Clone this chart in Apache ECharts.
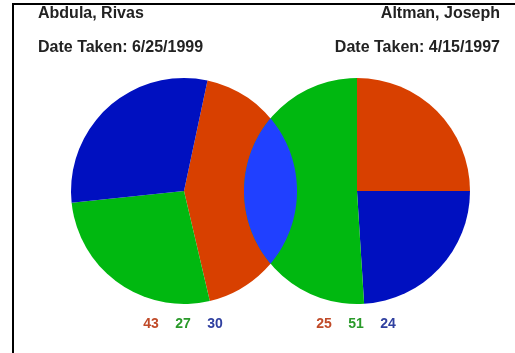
<!DOCTYPE html>
<html>
<head>
<meta charset="utf-8">
<script src="https://cdn.jsdelivr.net/npm/echarts@6/dist/echarts.min.js"></script>
<style>
html,body{margin:0;padding:0;background:#fff;}
#main{width:515px;height:353px;}
</style>
</head>
<body>
<div id="main"></div>
<script>
// ---- data ----
var leftName = "Abdula, Rivas";
var leftDate = "Date Taken: 6/25/1999";
var rightName = "Altman, Joseph";
var rightDate = "Date Taken: 4/15/1997";
var leftCategories = ["Red", "Green", "Blue"];
var leftValues = [43, 27, 30];
var rightCategories = ["Red", "Blue", "Green"];
var rightValues = [25, 24, 51];
var labelOrderLeft = [43, 27, 30];
var labelOrderRight = [25, 51, 24];

// ---- styles / layout ----
var colorMap = {Red: "#d84000", Green: "#00b810", Blue: "#0010c0"};
var textColorMap = {Red: "#c04a28", Green: "#2a9a2a", Blue: "#3040a0"};
var leftLabelColors = ["Red", "Green", "Blue"];
var rightLabelColors = ["Red", "Green", "Blue"];
var cy = 191, r = 113, c1x = 184, c2x = 357;

function pieData(cats, vals) {
  return cats.map(function (c, i) {
    return {name: c, value: vals[i], itemStyle: {color: colorMap[c]}};
  });
}

// lens (overlap of the two pie discs) as a polygon following both circle arcs
var d = c2x - c1x;
var half = Math.acos((d / 2) / r);
var lensPts = [];
var N = 60;
for (var k = 0; k <= N; k++) { // right side of left circle, top -> bottom
  var a = -half + (2 * half) * k / N;
  lensPts.push([c1x + r * Math.cos(a), cy + r * Math.sin(a)]);
}
for (var k2 = 0; k2 <= N; k2++) { // left side of right circle, bottom -> top
  var b = Math.PI - half + (2 * half) * k2 / N;
  lensPts.push([c2x + r * Math.cos(b), cy - r * Math.sin(b)]);
}

var titleFont = "bold 16px 'Liberation Sans', Arial";
var numFont = "bold 14px 'Liberation Sans', Arial";
var graphics = [
  {type: "line", shape: {x1: 13, y1: 4, x2: 13, y2: 353}, style: {stroke: "#000", lineWidth: 2}},
  {type: "line", shape: {x1: 12, y1: 4, x2: 515, y2: 4}, style: {stroke: "#000", lineWidth: 2}},
  {type: "polygon", shape: {points: lensPts}, style: {fill: "#2040ff"}, z: 100},
  {type: "text", x: 38, y: 14, style: {text: leftName, font: titleFont, fill: "#222", align: "left", verticalAlign: "middle"}},
  {type: "text", x: 38, y: 48, style: {text: leftDate, font: titleFont, fill: "#222", align: "left", verticalAlign: "middle"}},
  {type: "text", x: 500, y: 14, style: {text: rightName, font: titleFont, fill: "#222", align: "right", verticalAlign: "middle"}},
  {type: "text", x: 500, y: 48, style: {text: rightDate, font: titleFont, fill: "#222", align: "right", verticalAlign: "middle"}}
];
var spacing = 32;
labelOrderLeft.forEach(function (v, i) {
  graphics.push({type: "text", x: c1x - 1 + (i - 1) * spacing, y: 324,
    style: {text: String(v), font: numFont, fill: textColorMap[leftLabelColors[i]], align: "center", verticalAlign: "middle"}});
});
labelOrderRight.forEach(function (v, i) {
  graphics.push({type: "text", x: c2x - 1 + (i - 1) * spacing, y: 324,
    style: {text: String(v), font: numFont, fill: textColorMap[rightLabelColors[i]], align: "center", verticalAlign: "middle"}});
});

var chart = echarts.init(document.getElementById("main"), null, {renderer: "canvas"});
chart.setOption({
  animation: false,
  backgroundColor: "#fff",
  series: [
    {type: "pie", center: [c1x, cy], radius: r, startAngle: 78, clockwise: true,
     label: {show: false}, labelLine: {show: false}, silent: true,
     itemStyle: {borderWidth: 0}, emphasis: {disabled: true},
     data: pieData(leftCategories, leftValues)},
    {type: "pie", center: [c2x, cy], radius: r, startAngle: 90, clockwise: true,
     label: {show: false}, labelLine: {show: false}, silent: true,
     itemStyle: {borderWidth: 0}, emphasis: {disabled: true},
     data: pieData(rightCategories, rightValues)}
  ],
  graphic: graphics
});
</script>
</body>
</html>
